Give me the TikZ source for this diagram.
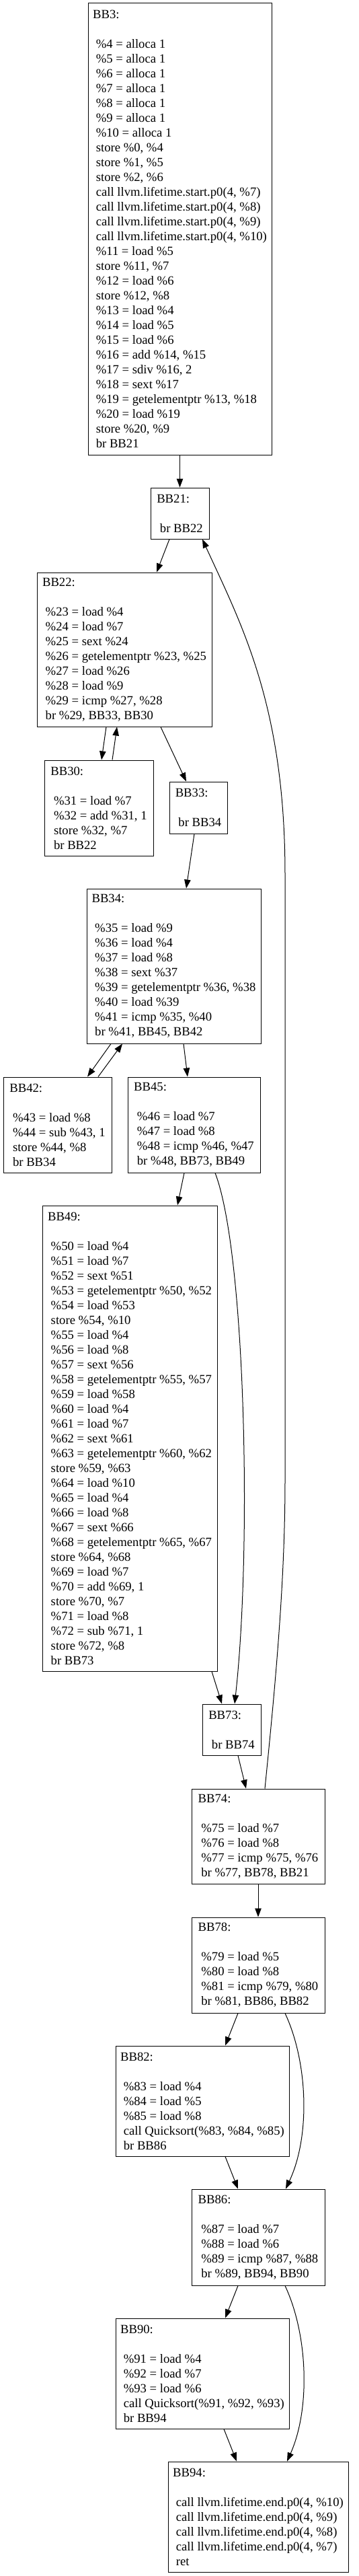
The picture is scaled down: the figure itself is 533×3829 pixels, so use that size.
\documentclass[tikz,border=0pt]{standalone}
\usepackage{fontspec}
\setmainfont{Liberation Serif}
\usetikzlibrary{arrows.meta}
\begin{document}
\begin{tikzpicture}[x=1pt, y=-1pt,
    bb/.style={draw, line width=1pt, align=left, inner sep=0pt, font=\fontsize{18.67}{22}\selectfont},
    edge/.style={line width=1pt, -{Triangle[length=13pt, width=9.5pt]}}]
  \useasboundingbox (0,0) rectangle (533,3829); % 页面
  % 基本块
  \node[bb, minimum width=273pt, minimum height=671pt] (BB3) at (267.5,340.5) {BB3:\\[22pt]
    \ \%4 = alloca 1\\ \ \%5 = alloca 1\\ \ \%6 = alloca 1\\ \ \%7 = alloca 1\\
    \ \%8 = alloca 1\\ \ \%9 = alloca 1\\ \ \%10 = alloca 1\\
    \ store \%0, \%4\\ \ store \%1, \%5\\ \ store \%2, \%6\\
    \ call llvm.lifetime.start.p0(4, \%7)\\ \ call llvm.lifetime.start.p0(4, \%8)\\
    \ call llvm.lifetime.start.p0(4, \%9)\\ \ call llvm.lifetime.start.p0(4, \%10)\\
    \ \%11 = load \%5\\ \ store \%11, \%7\\ \ \%12 = load \%6\\ \ store \%12, \%8\\
    \ \%13 = load \%4\\ \ \%14 = load \%5\\ \ \%15 = load \%6\\ \ \%16 = add \%14, \%15\\
    \ \%17 = sdiv \%16, 2\\ \ \%18 = sext \%17\\ \ \%19 = getelementptr \%13, \%18\\
    \ \%20 = load \%19\\ \ store \%20, \%9\\ \ br BB21};
  \node[bb, minimum width=87pt, minimum height=76pt] (BB21) at (267.5,763) {BB21:\\[22pt]\ br BB22};
  \node[bb, minimum width=260pt, minimum height=229pt] (BB22) at (185,965.5) {BB22:\\[22pt]
    \ \%23 = load \%4\\ \ \%24 = load \%7\\ \ \%25 = sext \%24\\ \ \%26 = getelementptr \%23, \%25\\
    \ \%27 = load \%26\\ \ \%28 = load \%9\\ \ \%29 = icmp \%27, \%28\\ \ br \%29, BB33, BB30};
  \node[bb, minimum width=162pt, minimum height=142pt] (BB30) at (147,1201) {BB30:\\[22pt]
    \ \%31 = load \%7\\ \ \%32 = add \%31, 1\\ \ store \%32, \%7\\ \ br BB22};
  \node[bb, minimum width=86pt, minimum height=77pt] (BB33) at (295,1200.5) {BB33:\\[22pt]\ br BB34};
  \node[bb, minimum width=259pt, minimum height=230pt] (BB34) at (258.5,1436) {BB34:\\[22pt]
    \ \%35 = load \%9\\ \ \%36 = load \%4\\ \ \%37 = load \%8\\ \ \%38 = sext \%37\\
    \ \%39 = getelementptr \%36, \%38\\ \ \%40 = load \%39\\ \ \%41 = icmp \%35, \%40\\ \ br \%41, BB45, BB42};
  \node[bb, minimum width=161pt, minimum height=142pt] (BB42) at (85.5,1672) {BB42:\\[22pt]
    \ \%43 = load \%8\\ \ \%44 = sub \%43, 1\\ \ store \%44, \%8\\ \ br BB34};
  \node[bb, minimum width=197pt, minimum height=142pt] (BB45) at (288.5,1672) {BB45:\\[22pt]
    \ \%46 = load \%7\\ \ \%47 = load \%8\\ \ \%48 = icmp \%46, \%47\\ \ br \%48, BB73, BB49};
  \node[bb, minimum width=260pt, minimum height=692pt] (BB49) at (193,2138) {BB49:\\[22pt]
    \ \%50 = load \%4\\ \ \%51 = load \%7\\ \ \%52 = sext \%51\\ \ \%53 = getelementptr \%50, \%52\\
    \ \%54 = load \%53\\ \ store \%54, \%10\\ \ \%55 = load \%4\\ \ \%56 = load \%8\\
    \ \%57 = sext \%56\\ \ \%58 = getelementptr \%55, \%57\\ \ \%59 = load \%58\\
    \ \%60 = load \%4\\ \ \%61 = load \%7\\ \ \%62 = sext \%61\\ \ \%63 = getelementptr \%60, \%62\\
    \ store \%59, \%63\\ \ \%64 = load \%10\\ \ \%65 = load \%4\\ \ \%66 = load \%8\\
    \ \%67 = sext \%66\\ \ \%68 = getelementptr \%65, \%67\\ \ store \%64, \%68\\
    \ \%69 = load \%7\\ \ \%70 = add \%69, 1\\ \ store \%70, \%7\\ \ \%71 = load \%8\\
    \ \%72 = sub \%71, 1\\ \ store \%72, \%8\\ \ br BB73};
  \node[bb, minimum width=87pt, minimum height=76pt] (BB73) at (344.5,2571) {BB73:\\[22pt]\ br BB74};
  \node[bb, minimum width=198pt, minimum height=141pt] (BB74) at (384,2729.5) {BB74:\\[22pt]
    \ \%75 = load \%7\\ \ \%76 = load \%8\\ \ \%77 = icmp \%75, \%76\\ \ br \%77, BB78, BB21};
  \node[bb, minimum width=198pt, minimum height=142pt] (BB78) at (384,2921) {BB78:\\[22pt]
    \ \%79 = load \%5\\ \ \%80 = load \%8\\ \ \%81 = icmp \%79, \%80\\ \ br \%81, BB86, BB82};
  \node[bb, minimum width=258pt, minimum height=164pt] (BB82) at (301,3123) {BB82:\\[22pt]
    \ \%83 = load \%4\\ \ \%84 = load \%5\\ \ \%85 = load \%8\\
    \ call Quicksort(\%83, \%84, \%85)\\ \ br BB86};
  \node[bb, minimum width=198pt, minimum height=143pt] (BB86) at (384,3325.5) {BB86:\\[22pt]
    \ \%87 = load \%7\\ \ \%88 = load \%6\\ \ \%89 = icmp \%87, \%88\\ \ br \%89, BB94, BB90};
  \node[bb, minimum width=258pt, minimum height=164pt] (BB90) at (301,3528) {BB90:\\[22pt]
    \ \%91 = load \%4\\ \ \%92 = load \%7\\ \ \%93 = load \%6\\
    \ call Quicksort(\%91, \%92, \%93)\\ \ br BB94};
  \node[bb, minimum width=268pt, minimum height=164pt] (BB94) at (384,3741) {BB94:\\[22pt]
    \ call llvm.lifetime.end.p0(4, \%10)\\ \ call llvm.lifetime.end.p0(4, \%9)\\
    \ call llvm.lifetime.end.p0(4, \%8)\\ \ call llvm.lifetime.end.p0(4, \%7)\\ \ ret};
  % 控制流边
  \draw[edge] (BB3.south) -- (BB21.north);
  \draw[edge] ([xshift=-15.5pt]BB21.south) -- ([xshift=48pt]BB22.north);
  \draw[edge] ([xshift=-27pt]BB22.south) -- ([xshift=4pt]BB30.north);
  \draw[edge] ([xshift=20pt]BB30.north) -- ([xshift=-11pt]BB22.south);
  \draw[edge] ([xshift=54pt]BB22.south) -- ([xshift=-18pt]BB33.north);
  \draw[edge] ([xshift=-6pt]BB33.south) -- ([xshift=18.5pt]BB34.north);
  \draw[edge] ([xshift=-93.5pt]BB34.south) -- ([xshift=44.5pt]BB42.north);
  \draw[edge] ([xshift=60.5pt]BB42.north) -- ([xshift=-76.5pt]BB34.south);
  \draw[edge] ([xshift=14.5pt]BB34.south) -- ([xshift=-9.5pt]BB45.north);
  \draw[edge] ([xshift=-14.5pt]BB45.south) -- ([xshift=71pt]BB49.north);
  \draw[edge] ([xshift=31.5pt]BB45.south) .. controls (365,1860) and (375,2300) .. ([xshift=4.5pt]BB73.north);
  \draw[edge] ([xshift=122pt]BB49.south) -- ([xshift=-14.5pt]BB73.north);
  \draw[edge] ([xshift=9.5pt]BB73.south) -- ([xshift=-18pt]BB74.north);
  \draw[edge] ([xshift=10pt]BB74.north) .. controls (410,2500) and (424,2350) .. (424,2200)
    -- (424,1300) .. controls (424,1050) and (360,930) .. ([xshift=33.5pt]BB21.south); % 回边
  \draw[edge] (BB74.south) -- (BB78.north);
  \draw[edge] ([xshift=-30pt]BB78.south) -- ([xshift=34pt]BB82.north);
  \draw[edge] ([xshift=40pt]BB78.south) .. controls (458,3065) and (462,3175) .. ([xshift=41pt]BB86.north);
  \draw[edge] ([xshift=34pt]BB82.south) -- ([xshift=-30pt]BB86.north);
  \draw[edge] ([xshift=-30pt]BB86.south) -- ([xshift=34pt]BB90.north);
  \draw[edge] ([xshift=40pt]BB86.south) .. controls (458,3470) and (462,3580) .. ([xshift=43pt]BB94.north);
  \draw[edge] ([xshift=32pt]BB90.south) -- ([xshift=-32pt]BB94.north);
\end{tikzpicture}
\end{document}
